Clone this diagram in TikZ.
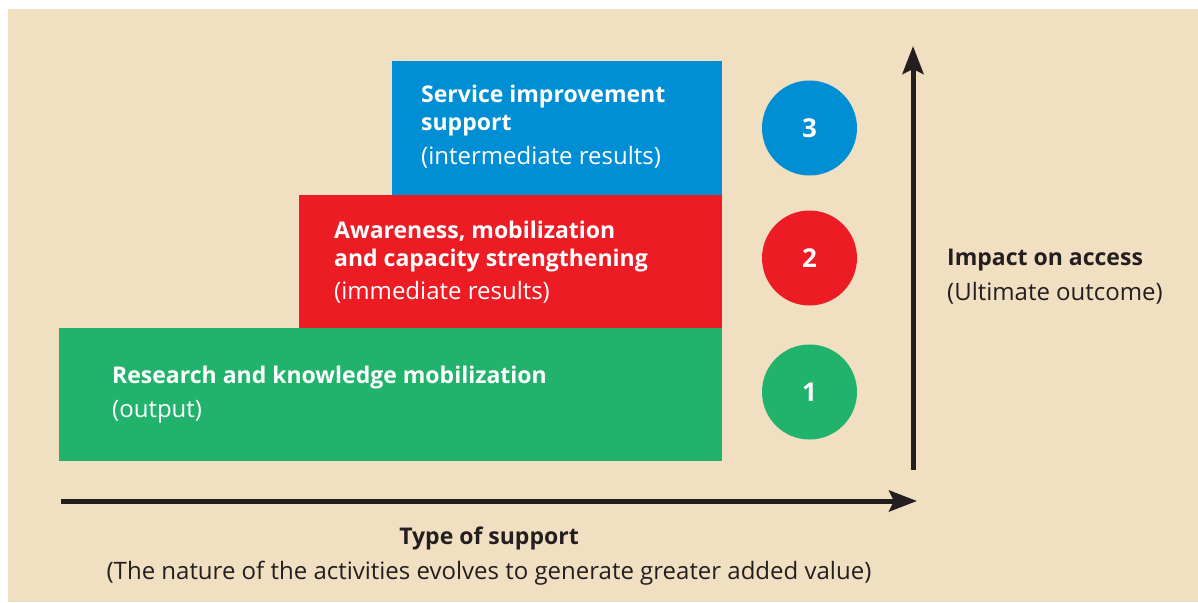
\documentclass[tikz,border=0pt]{standalone}
\usepackage{fontspec}
\setmainfont{Open Sans}
\usetikzlibrary{arrows.meta}
\definecolor{beige}{HTML}{F1DFC1}
\definecolor{stepblue}{HTML}{008FD5}
\definecolor{stepred}{HTML}{ED1C24}
\definecolor{stepgreen}{HTML}{21B36C}
\definecolor{ink}{HTML}{231F20}
\tikzset{
  block/.style={fill=#1, draw=none, anchor=north west, inner sep=0pt},
  badge/.style={circle, fill=#1, draw=none, minimum size=95pt, inner sep=0pt,
    text=white, font=\fontsize{26}{30}\selectfont\bfseries},
  boxtitle/.style={anchor=base west, inner sep=0pt, text=white,
    font=\fontsize{23}{28}\selectfont\bfseries},
  boxnote/.style={anchor=base west, inner sep=0pt, text=white,
    font=\fontsize{24}{28}\selectfont},
  axis/.style={line width=5pt, ink, -{Stealth[length=28pt,width=21pt,inset=5pt]}},
}
\begin{document}
\begin{tikzpicture}[x=1pt,y=-1pt]
  \useasboundingbox (0,0) rectangle (1198,602);
  \fill[beige] (8,9) rectangle (1198,602);
  %% steps
  \node[block=stepgreen, minimum width=663pt, minimum height=133pt] (green) at (59,328) {};
  \node[block=stepred, minimum width=423pt, minimum height=133pt] (red) at (299,195) {};
  \node[block=stepblue, minimum width=330pt, minimum height=134pt] (blue) at (392,61) {};
  %%
  \node[boxtitle] (bluetitle) at (421,102) {Service improvement};
  \node[boxtitle] (bluetitleb) at (421,130) {support};
  \node[boxnote] (bluenote) at (421,164) {(intermediate results)};
  \node[boxtitle] (redtitle) at (334,238) {Awareness, mobilization};
  \node[boxtitle] (redtitleb) at (334,266) {and capacity strengthening};
  \node[boxnote] (rednote) at (334,299) {(immediate results)};
  \node[boxtitle] (greentitle) at (112,383) {Research and knowledge mobilization};
  \node[boxnote] (greennote) at (112,417) {(output)};
  %% levels
  \node[badge=stepblue] (three) at (809.5,128) {3};
  \node[badge=stepred] (two) at (809.5,258) {2};
  \node[badge=stepgreen] (one) at (809.5,392) {1};
  %% axes
  \coordinate (origin) at (913,470);
  \coordinate (top) at (913,46);
  \coordinate (left) at (61,501);
  \coordinate (right) at (917,501);
  \draw[axis] (origin) -- (top);
  \draw[axis] (left) -- (right);
  \node[anchor=base west, inner sep=0pt, text=ink, font=\fontsize{23}{28}\selectfont\bfseries] (impact) at (947,265) {Impact on access};
  \node[anchor=base west, inner sep=0pt, text=ink, font=\fontsize{24}{28}\selectfont] (outcome) at (947,300) {(Ultimate outcome)};
  \node[anchor=base, inner sep=0pt, text=ink, font=\fontsize{23}{28}\selectfont\bfseries] (type) at (489,544) {Type of support};
  \node[anchor=base, inner sep=0pt, text=ink, font=\fontsize{24}{28}\selectfont] (nature) at (489,579) {(The nature of the activities evolves to generate greater added value)};
\end{tikzpicture}
\end{document}
